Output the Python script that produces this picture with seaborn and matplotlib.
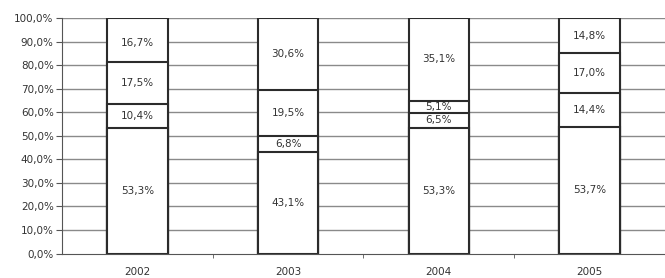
import numpy as np
import pandas as pd
import matplotlib
matplotlib.use("Agg")
import matplotlib.pyplot as plt
import seaborn as sns

years = ["2002", "2003", "2004", "2005"]
seg1 = [53.3, 43.1, 53.3, 53.7]
seg2 = [10.4, 6.8, 6.5, 14.4]
seg3 = [17.5, 19.5, 5.1, 17.0]
seg4 = [16.7, 30.6, 35.1, 14.8]
rest = [2.1, 0.0, 0.0, 0.1]  # unlabeled remainder up to 100%

sns.set_style("white")
plt.rcParams["font.family"] = ["DejaVu Sans"]

layers = [seg1, seg2, seg3, seg4, rest]
cum = np.cumsum(np.array(layers), axis=0)

fig = plt.figure(figsize=(6.65, 2.78), dpi=100)
ax = fig.add_axes([0.0932, 0.0880, 0.9068, 0.847])

# gridlines under bars
for v in np.arange(10, 101, 10):
    ax.axhline(v, color="#8a8a8a", lw=1.0, zorder=0)

# cumulative bars drawn from top down so they overlap into a stack
# (the top segment and the remainder share one box, as in the original)
for i in [4, 2, 1, 0]:
    df = pd.DataFrame({"year": years, "value": cum[i]})
    sns.barplot(data=df, x="year", y="value", ax=ax, color="white",
                edgecolor="#2b2b2b", linewidth=1.5, width=0.4,
                saturation=1, errorbar=None, zorder=2)

# labels centred in each labeled segment
for i, seg in enumerate(layers[:4]):
    base = cum[i] - np.array(seg)
    for j, v in enumerate(seg):
        ax.text(j, base[j] + v / 2, f"{v:.1f}%".replace(".", ","),
                ha="center", va="center", fontsize=7.5, color="#333333", zorder=3)

ax.set_xlim(-0.5, 3.5)
ax.set_ylim(0, 100)
ax.set_yticks(np.arange(0, 101, 10))
ax.set_yticklabels([f"{v:.1f}%".replace(".", ",") for v in np.arange(0, 101, 10)])
ax.set_xlabel("")
ax.set_ylabel("")
ax.set_xticks([0, 1, 2, 3])
ax.set_xticks([0.5, 1.5, 2.5], minor=True)
ax.tick_params(axis="x", which="major", length=0, pad=10, labelsize=7.5, colors="#333333")
ax.tick_params(axis="x", which="minor", length=3, direction="out", color="#555555", bottom=True)
ax.tick_params(axis="y", length=4, direction="out", left=True, labelsize=7.5,
               colors="#333333", color="#555555", pad=2)
for s in ["top", "right"]:
    ax.spines[s].set_visible(False)
ax.spines["left"].set_color("#555555")
ax.spines["bottom"].set_color("#555555")

fig.savefig("out.png", dpi=100)
